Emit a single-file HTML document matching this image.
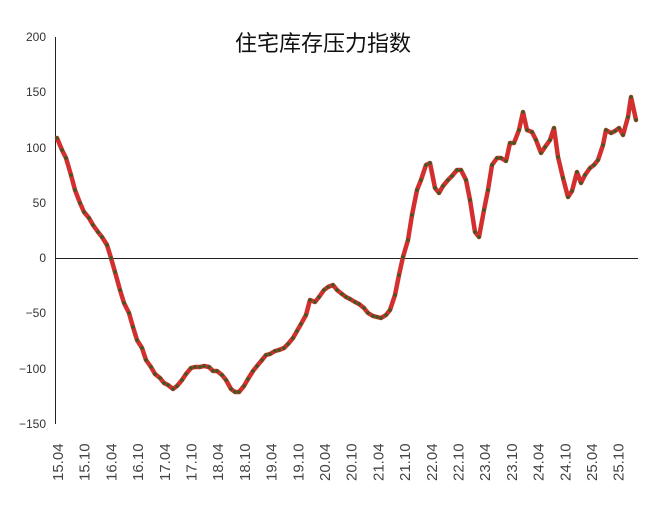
<!DOCTYPE html>
<html><head><meta charset="utf-8"><style>body{margin:0;background:#fff}</style></head>
<body>
<svg width="660" height="517" xmlns="http://www.w3.org/2000/svg" font-family="Liberation Sans, Noto Sans CJK SC, sans-serif">
<rect width="660" height="517" fill="#fff"/>
<text x="323" y="51" font-size="22" text-anchor="middle" fill="#111" font-family="Liberation Sans, Noto Sans CJK SC, sans-serif">住宅库存压力指数</text>
<g font-size="12" fill="#333" text-anchor="end">
<text x="46" y="41">200</text>
<text x="46" y="96">150</text>
<text x="46" y="152">100</text>
<text x="46" y="207">50</text>
<text x="46" y="262">0</text>
<text x="46" y="317">−50</text>
<text x="46" y="373">−100</text>
<text x="46" y="428">−150</text>
</g>
<line x1="55.5" y1="37" x2="55.5" y2="424" stroke="#222" stroke-width="1"/>
<line x1="55" y1="258.5" x2="638" y2="258.5" stroke="#222" stroke-width="1"/>
<g font-size="15" fill="#444" id="xl"></g>
<polyline id="ln" fill="none" stroke="#d32f2f" stroke-width="4.5" stroke-linejoin="round" stroke-linecap="round" points=""/>
<g id="dots" fill="#3d5a1e"></g>
<script>
var p=[[57,138],[62,150],[66,158],[71,175],[75,190],[80,203],[84,212],[89,218],[93,225],[98,232],[102,237],[107,245],[111,258],[115,272],[120,290],[124,303],[129,313],[133,327],[137,340],[142,348],[146,360],[151,367],[155,374],[160,378],[164,383],[168,385],[173,389],[177,386],[182,380],[186,374],[191,368],[195,367],[200,367],[204,366],[209,367],[213,371],[217,371],[222,375],[226,380],[231,389],[235,392],[239,392],[244,386],[248,379],[253,371],[257,366],[262,360],[266,355],[270,354],[275,351],[279,350],[284,348],[288,344],[293,338],[297,331],[301,324],[306,315],[310,300],[315,302],[319,297],[324,290],[328,287],[333,285],[337,290],[342,294],[346,297],[350,299],[355,302],[359,304],[364,308],[368,313],[373,316],[377,317],[381,318],[386,315],[390,310],[395,295],[399,275],[403,257],[408,240],[412,215],[417,190],[421,180],[426,165],[430,163],[435,188],[439,193],[443,186],[448,180],[452,176],[457,170],[461,170],[466,180],[470,200],[475,232],[479,237],[484,210],[488,190],[492,165],[497,158],[501,158],[506,161],[510,143],[514,143],[519,130],[523,112],[527,130],[532,132],[536,140],[541,153],[545,147],[550,140],[554,128],[558,157],[563,178],[568,197],[572,191],[577,172],[581,183],[585,175],[590,168],[594,165],[598,160],[603,145],[606,130],[611,133],[615,131],[619,128],[623,135],[628,117],[631,97],[636,120]];
document.getElementById('ln').setAttribute('points',p.map(function(a){return a.join(',')}).join(' '));
var d=document.getElementById('dots'),ns='http://www.w3.org/2000/svg';
p.forEach(function(a){var c=document.createElementNS(ns,'circle');c.setAttribute('cx',a[0]);c.setAttribute('cy',a[1]);c.setAttribute('r',1.8);d.appendChild(c);});
var xl=document.getElementById('xl');
var labs=['15.04','15.10','16.04','16.10','17.04','17.10','18.04','18.10','19.04','19.10','20.04','20.10','21.04','21.10','22.04','22.10','23.04','23.10','24.04','24.10','25.04','25.10'];
labs.forEach(function(s,i){var x=58+i*26.7;var t=document.createElementNS(ns,'text');t.setAttribute('transform','translate('+(x+5)+',481) rotate(-90)');t.textContent=s;xl.appendChild(t);});
</script>
</svg>
</body></html>
